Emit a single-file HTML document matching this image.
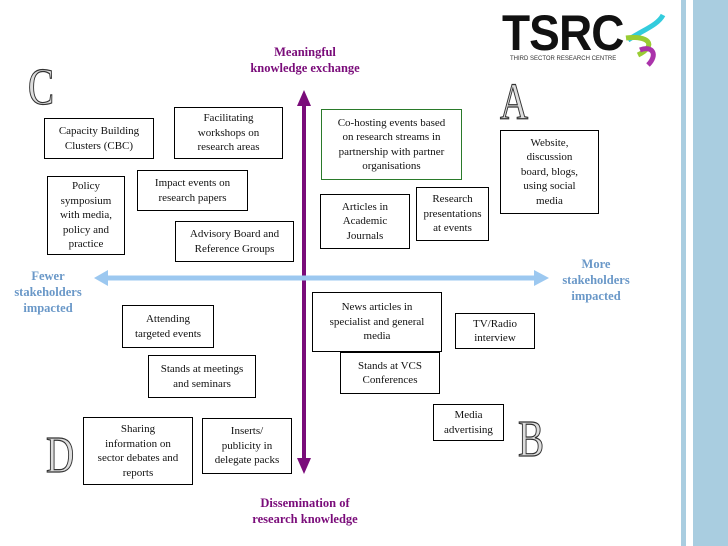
<!DOCTYPE html>
<html><head><meta charset="utf-8"><style>
body{margin:0;width:728px;height:546px;background:#fff;position:relative;overflow:hidden;font-family:"Liberation Serif",serif;}
.b{position:absolute;border:1px solid #000;box-sizing:border-box;font-size:11px;line-height:14.5px;text-align:center;display:flex;align-items:center;justify-content:center;color:#111;padding:0 2px;}
.lab{position:absolute;font-weight:bold;font-size:12.5px;line-height:16px;text-align:center;}
.big{position:absolute;font-family:"Liberation Serif",serif;font-size:52px;color:#ddd;-webkit-text-stroke:1.2px #333;transform:scaleX(0.75);transform-origin:left top;line-height:1;}
</style></head><body>
<div style="position:absolute;left:681px;top:0;width:5px;height:546px;background:#a9cde0"></div>
<div style="position:absolute;left:693px;top:0;width:35px;height:546px;background:#a9cde0"></div>

<div style="position:absolute;left:502px;top:8px;font-family:'Liberation Sans',sans-serif;font-weight:bold;font-size:50px;line-height:50px;transform:scaleX(0.92);transform-origin:left top;color:#111;letter-spacing:-1px">TSRC</div>
<div style="position:absolute;left:510px;top:56px;font-family:'Liberation Sans',sans-serif;font-size:6px;color:#333">THIRD SECTOR RESEARCH CENTRE</div>
<svg style="position:absolute;left:618px;top:10px" width="50" height="60"><path d="M10 30 C25 20 40 15 45 5" stroke="#3cd" stroke-width="5" fill="none"/><path d="M8 28 C30 25 40 35 20 45" stroke="#9c3" stroke-width="5" fill="none"/><path d="M22 40 C35 35 40 45 30 55" stroke="#a3a" stroke-width="5" fill="none"/></svg>

<div class="big" style="left:28px;top:62px">C</div>
<div class="big" style="left:500px;top:77px">A</div>
<div class="big" style="left:46px;top:430px">D</div>
<div class="big" style="left:518px;top:414px">B</div>

<div class="lab" style="left:220px;top:44px;width:170px;color:#7a0c7a">Meaningful<br>knowledge exchange</div>
<div class="lab" style="left:220px;top:495px;width:170px;color:#7a0c7a">Dissemination of<br>research knowledge</div>
<div class="lab" style="left:0px;top:268px;width:96px;color:#6a98c8">Fewer<br>stakeholders<br>impacted</div>
<div class="lab" style="left:548px;top:256px;width:96px;color:#6a98c8">More<br>stakeholders<br>impacted</div>

<svg style="position:absolute;left:0;top:0" width="728" height="546">
<line x1="304" y1="104" x2="304" y2="460" stroke="#7a0c7a" stroke-width="4"/>
<polygon points="297,106 311,106 304,90" fill="#7a0c7a"/>
<polygon points="297,458 311,458 304,474" fill="#7a0c7a"/>
<line x1="104" y1="278" x2="536" y2="278" stroke="#9cc8f0" stroke-width="5"/>
<polygon points="108,270 108,286 94,278" fill="#9cc8f0"/>
<polygon points="534,270 534,286 549,278" fill="#9cc8f0"/>
</svg>

<div class="b" style="left:44px;top:118px;width:110px;height:41px">Capacity Building<br>Clusters (CBC)</div>
<div class="b" style="left:174px;top:107px;width:109px;height:52px">Facilitating<br>workshops on<br>research areas</div>
<div class="b" style="left:321px;top:109px;width:141px;height:71px;border-color:#2a7a2a">Co-hosting events based<br>on research streams in<br>partnership with partner<br>organisations</div>
<div class="b" style="left:500px;top:130px;width:99px;height:84px">Website,<br>discussion<br>board, blogs,<br>using social<br>media</div>
<div class="b" style="left:47px;top:176px;width:78px;height:79px">Policy<br>symposium<br>with media,<br>policy and<br>practice</div>
<div class="b" style="left:137px;top:170px;width:111px;height:41px">Impact events on<br>research papers</div>
<div class="b" style="left:175px;top:221px;width:119px;height:41px">Advisory Board and<br>Reference Groups</div>
<div class="b" style="left:320px;top:194px;width:90px;height:55px">Articles in<br>Academic<br>Journals</div>
<div class="b" style="left:416px;top:187px;width:73px;height:54px">Research<br>presentations<br>at events</div>
<div class="b" style="left:122px;top:305px;width:92px;height:43px">Attending<br>targeted events</div>
<div class="b" style="left:312px;top:292px;width:130px;height:60px">News articles in<br>specialist and general<br>media</div>
<div class="b" style="left:455px;top:313px;width:80px;height:36px">TV/Radio<br>interview</div>
<div class="b" style="left:148px;top:355px;width:108px;height:43px">Stands at meetings<br>and seminars</div>
<div class="b" style="left:340px;top:352px;width:100px;height:42px">Stands at VCS<br>Conferences</div>
<div class="b" style="left:433px;top:404px;width:71px;height:37px">Media<br>advertising</div>
<div class="b" style="left:83px;top:417px;width:110px;height:68px">Sharing<br>information on<br>sector debates and<br>reports</div>
<div class="b" style="left:202px;top:418px;width:90px;height:56px">Inserts/<br>publicity in<br>delegate packs</div>
</body></html>
